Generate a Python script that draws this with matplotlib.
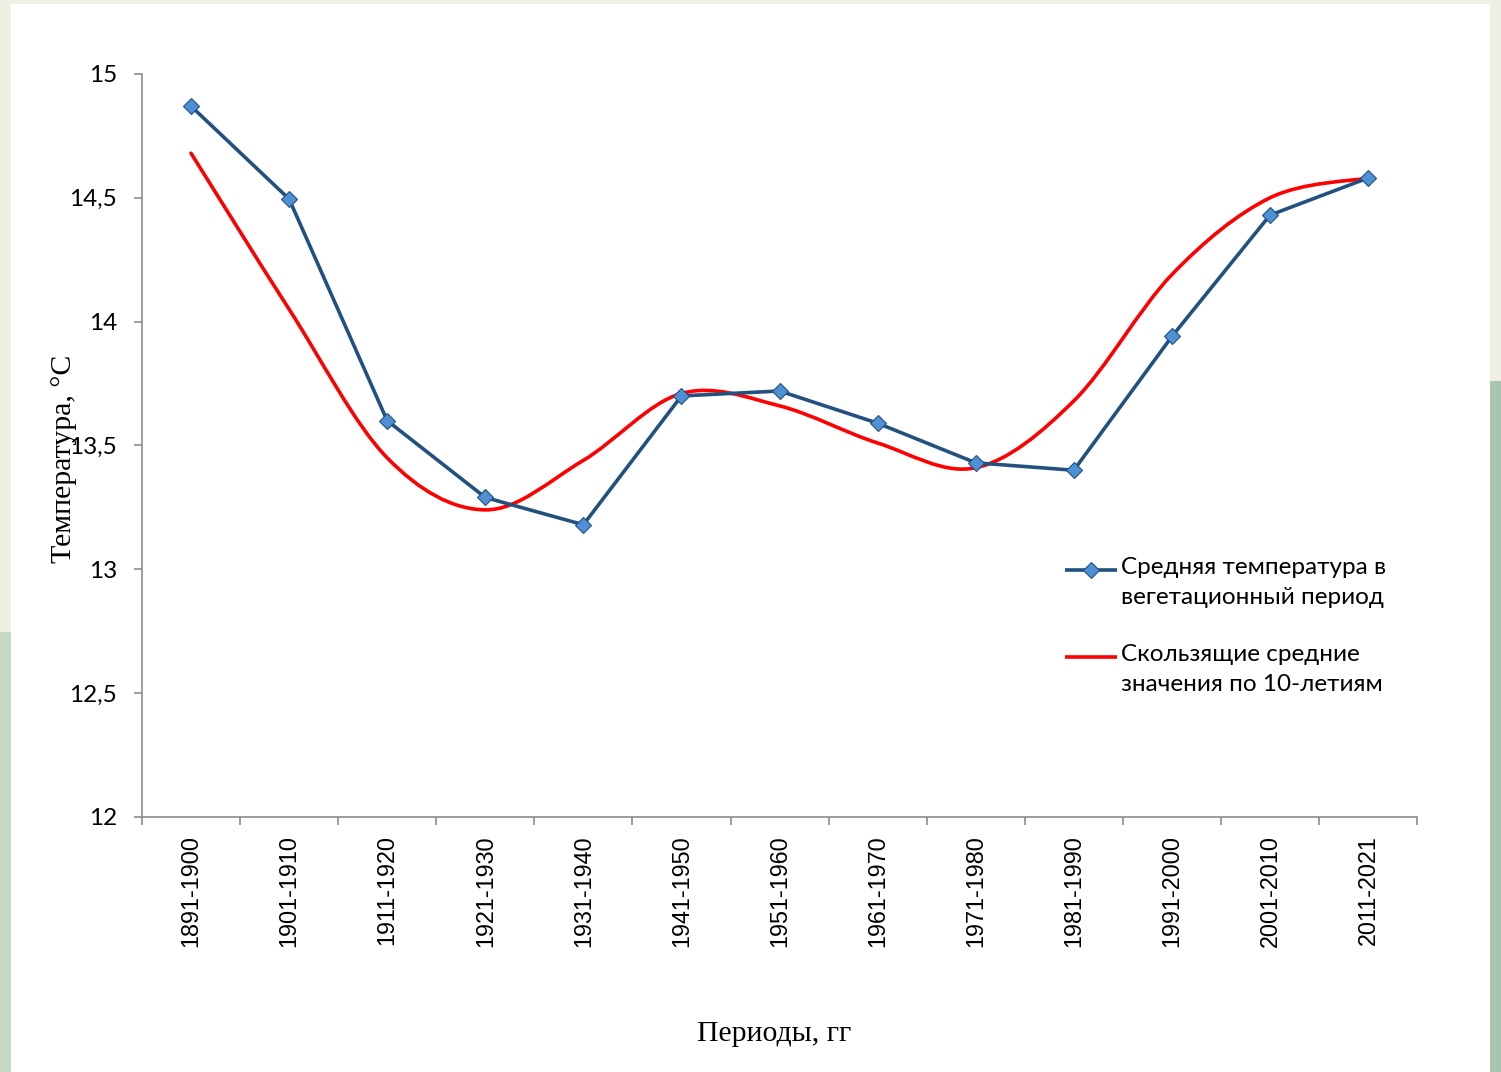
import matplotlib
matplotlib.use("Agg")
import matplotlib.pyplot as plt
from matplotlib.path import Path
from matplotlib.patches import PathPatch, Rectangle
from matplotlib.lines import Line2D


periods = ["1891-1900", "1901-1910", "1911-1920", "1921-1930", "1931-1940",
           "1941-1950", "1951-1960", "1961-1970", "1971-1980", "1981-1990",
           "1991-2000", "2001-2010", "2011-2021"]
mean_temp = [14.87, 14.495, 13.60, 13.29, 13.18, 13.70, 13.72,
             13.59, 13.43, 13.40, 13.94, 14.43, 14.58]
moving_avg = [14.68, 14.05, 13.45, 13.24, 13.44, 13.71, 13.66,
              13.51, 13.41, 13.68, 14.19, 14.50, 14.58]
legend_labels = ["Средняя температура в\nвегетационный период",
                 "Скользящие средние\nзначения по 10-летиям"]

BLUE = "#22517F"
MARKER_FACE = "#4F8FD3"
RED = "#FF0000"
AXIS_GRAY = "#8C8C8C"
W, H = 1501, 1072


def smooth_path(xs, ys):
    # Excel-style smoothed line: cubic Bezier through every point
    pts = list(zip(xs, ys))
    n = len(pts)
    verts = [pts[0]]
    codes = [Path.MOVETO]
    for i in range(n - 1):
        p_prev = pts[i - 1] if i > 0 else pts[i]
        p0 = pts[i]
        p1 = pts[i + 1]
        p_next = pts[i + 2] if i + 2 < n else pts[i + 1]
        c1 = (p0[0] + (p1[0] - p_prev[0]) / 6, p0[1] + (p1[1] - p_prev[1]) / 6)
        c2 = (p1[0] - (p_next[0] - p0[0]) / 6, p1[1] - (p_next[1] - p0[1]) / 6)
        verts += [c1, c2, p1]
        codes += [Path.CURVE4] * 3
    return Path(verts, codes)


def px(xp, yp):
    # pixel position (from top-left) -> figure fraction
    return xp / W, 1 - yp / H


fig = plt.figure(figsize=(W / 100, H / 100), dpi=100)
fig.patch.set_facecolor("#EFEFE3")

# slide background: green texture strips and the white chart area
fig.patches.append(Rectangle((0.9927, 0.0), 0.0073, 0.645, transform=fig.transFigure,
                             facecolor="#A9C4B1", edgecolor="none", zorder=-3))
fig.patches.append(Rectangle((0.0, 0.0), 0.0073, 0.41, transform=fig.transFigure,
                             facecolor="#C4DAC7", edgecolor="none", zorder=-3))
fig.patches.append(Rectangle((0.0073, 0.0), 0.9854, 0.9963, transform=fig.transFigure,
                             facecolor="white", edgecolor="none", zorder=-2))

ax = fig.add_axes([0.0946, 0.2379, 0.8495, 0.6931])
ax.set_facecolor("none")

x = list(range(len(periods)))

ax.add_patch(PathPatch(smooth_path(x, moving_avg), facecolor="none",
                       edgecolor=RED, linewidth=2.6, capstyle="round",
                       joinstyle="round", zorder=2))
ax.plot(x, mean_temp, color=BLUE, linewidth=2.6, marker="D", markersize=8,
        markerfacecolor=MARKER_FACE, markeredgecolor=BLUE, markeredgewidth=0.8,
        zorder=3)

ax.set_xlim(-0.5, len(periods) - 0.5)
ax.set_ylim(12, 15)
ax.set_yticks([12, 12.5, 13, 13.5, 14, 14.5, 15])
ax.set_yticklabels(["12", "12,5", "13", "13,5", "14", "14,5", "15"],
                   fontsize=17.5, family="Lato")

ax.set_xticks(x)
ax.set_xticklabels(periods, rotation=90, fontsize=16.8, family="Liberation Sans")
ax.set_xticks([i - 0.5 for i in range(len(periods) + 1)], minor=True)
ax.tick_params(axis="x", which="major", length=0, pad=13)
ax.tick_params(axis="x", which="minor", length=6, color=AXIS_GRAY, width=1.2)
ax.tick_params(axis="y", length=6, color=AXIS_GRAY, width=1.2, pad=12)

for side in ["top", "right"]:
    ax.spines[side].set_visible(False)
for side in ["left", "bottom"]:
    ax.spines[side].set_color(AXIS_GRAY)
    ax.spines[side].set_linewidth(1.2)

ax.set_ylabel("Температура, °С", family="Liberation Serif", fontsize=21.5)
ax.yaxis.set_label_coords(-0.051, 0.482)
ax.set_xlabel("Периоды, гг", family="Liberation Serif", fontsize=21.5)
ax.xaxis.set_label_coords(0.496, -0.274)

# legend: handle level with the first line of each label
handle_y = [570, 657]
styles = [
    dict(color=BLUE, linewidth=2.6, marker="D", markersize=8, markevery=[1],
         markerfacecolor=MARKER_FACE, markeredgecolor=BLUE, markeredgewidth=0.8),
    dict(color=RED, linewidth=2.6),
]
for label, hy, st in zip(legend_labels, handle_y, styles):
    x0, y0 = px(1065, hy)
    x1, _ = px(1091, hy)
    x2, _ = px(1117, hy)
    fig.add_artist(Line2D([x0, x1, x2], [y0, y0, y0], transform=fig.transFigure,
                          solid_capstyle="butt", **st))
    tx, ty = px(1121, hy - 13)
    fig.text(tx, ty, label, ha="left", va="top", family="Lato", fontsize=17.5,
             linespacing=1.55)

fig.savefig("out.png", dpi=100, facecolor=fig.get_facecolor())
